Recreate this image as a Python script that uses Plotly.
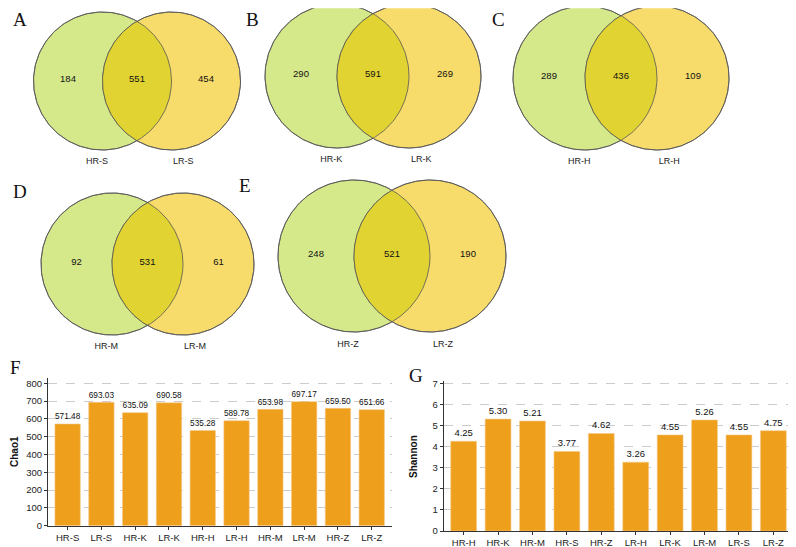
import numpy as np
import plotly.graph_objects as go

# venn counts: (only left, shared, only right)
venn_letters = ["A", "B", "C", "D", "E"]
venn_left = ["HR-S", "HR-K", "HR-H", "HR-M", "HR-Z"]
venn_right = ["LR-S", "LR-K", "LR-H", "LR-M", "LR-Z"]
left_only = [184, 290, 289, 92, 248]
shared = [551, 591, 436, 531, 521]
right_only = [454, 269, 109, 61, 190]

# alpha diversity
chao1_groups = ["HR-S", "LR-S", "HR-K", "LR-K", "HR-H", "LR-H", "HR-M", "LR-M", "HR-Z", "LR-Z"]
chao1_values = [571.48, 693.03, 635.09, 690.58, 535.28, 589.78, 653.98, 697.17, 659.50, 651.66]
shannon_groups = ["HR-H", "HR-K", "HR-M", "HR-S", "HR-Z", "LR-H", "LR-K", "LR-M", "LR-S", "LR-Z"]
shannon_values = [4.25, 5.30, 5.21, 3.77, 4.62, 3.26, 4.55, 5.26, 4.55, 4.75]

# page has an 8px body margin, so the figure is a bit smaller than the window
PAD = 8
W, H = 796 - PAD, 547 - PAD
GREEN = "#d5e98b"
YELLOW = "#f8dc6b"
OVERLAP = "#e1d332"
ORANGE = "#ee9f1b"
SANS = "Liberation Sans"
SERIF = "Liberation Serif"

def fx(px):
    return min(max((px - PAD) / W, 0), 1)

def fy(py):
    return min(max(1 - (py - PAD) / H, 0), 1)

# panel placement in window pixels: left circle centre x, y and radius
venn_pos = [(102.5, 81, 69), (337, 76, 72), (585, 78, 72), (112, 264, 71), (354, 256, 76)]
XR = [-1.2, 2.2]

t = np.linspace(0, 2 * np.pi, 240)
a1 = np.linspace(-np.pi / 3, np.pi / 3, 80)
a2 = np.linspace(2 * np.pi / 3, 4 * np.pi / 3, 80)
lens_x = np.concatenate([np.cos(a1), 1 + np.cos(a2)])
lens_y = np.concatenate([np.sin(a1), np.sin(a2)])

fig = go.Figure()
layout = dict()
annotations = []

for i in range(5):
    n = i + 1
    xa = "x" if n == 1 else "x%d" % n
    ya = "y" if n == 1 else "y%d" % n
    cx, cy, r = venn_pos[i]
    yr = [-1.3, min(1.05, (cy - PAD) / r - 0.002)]
    line = dict(color="#555555", width=0.8)
    common = dict(xaxis=xa, yaxis=ya, hoverinfo="skip", cliponaxis=False)
    fig.add_trace(go.Scatter(x=np.cos(t), y=np.sin(t), fill="toself", fillcolor=GREEN,
                             mode="lines", line=line, **common))
    fig.add_trace(go.Scatter(x=1 + np.cos(t), y=np.sin(t), fill="toself", fillcolor=YELLOW,
                             mode="lines", line=line, **common))
    fig.add_trace(go.Scatter(x=lens_x, y=lens_y, fill="toself", fillcolor=OVERLAP,
                             mode="lines", line=dict(width=0), **common))
    fig.add_trace(go.Scatter(x=np.cos(t), y=np.sin(t), mode="lines", line=line, **common))
    fig.add_trace(go.Scatter(x=1 + np.cos(t), y=np.sin(t), mode="lines", line=line, **common))
    fig.add_trace(go.Scatter(x=[-0.5, 0.5, 1.5], y=[0.02, 0.02, 0.02], mode="text",
                             text=[str(left_only[i]), str(shared[i]), str(right_only[i])],
                             textfont=dict(family=SANS, size=9.5, color="#111"), **common))
    fig.add_trace(go.Scatter(x=[-0.08, 1.17], y=[-1.17, -1.17], mode="text",
                             text=[venn_left[i], venn_right[i]],
                             textfont=dict(family=SANS, size=9, color="#222"), **common))
    key = "" if n == 1 else str(n)
    layout["xaxis" + key] = dict(domain=[fx(cx + XR[0] * r), fx(cx + XR[1] * r)], range=XR,
                                 visible=False, anchor=ya, automargin=False)
    layout["yaxis" + key] = dict(domain=[fy(cy - yr[0] * r), fy(cy - yr[1] * r)], range=yr,
                                 visible=False, anchor=xa, automargin=False)

letter_pos = [(20, 20), (252, 20), (498, 20), (20, 191), (245, 185), (15, 367), (416, 375)]
for letter, (px, py) in zip(venn_letters + ["F", "G"], letter_pos):
    annotations.append(dict(text=letter, x=fx(px), y=fy(py), xref="paper", yref="paper",
                            xanchor="center", yanchor="middle", showarrow=False,
                            font=dict(family=SERIF, size=19, color="#111")))

# bar charts
def bar_axes(n, x0, x1, y0, y1, yrange, dtick):
    axis_style = dict(showline=True, linecolor="#333", linewidth=1, ticks="outside",
                      ticklen=3, tickcolor="#333", automargin=False,
                      tickfont=dict(family=SANS, size=9.5, color="#222"))
    layout["xaxis%d" % n] = dict(domain=[fx(x0), fx(x1)], anchor="y%d" % n, range=[-0.58, 9.6],
                                 showgrid=False, **axis_style)
    layout["yaxis%d" % n] = dict(domain=[fy(y0), fy(y1)], anchor="x%d" % n, range=yrange,
                                 dtick=dtick, showgrid=True, gridcolor="#cccccc", griddash="dash",
                                 gridwidth=0.8, zeroline=False, **axis_style)

fig.add_trace(go.Bar(x=chao1_groups, y=chao1_values, marker=dict(color=ORANGE, line=dict(color="#f5c88a", width=0.6)),
                     width=0.75, text=["%.2f" % v for v in chao1_values], textposition="outside",
                     textfont=dict(family=SANS, size=9.5, color="#111"), cliponaxis=False,
                     xaxis="x6", yaxis="y6", hoverinfo="skip"))
fig.add_trace(go.Bar(x=shannon_groups, y=shannon_values, marker=dict(color=ORANGE, line=dict(color="#f5c88a", width=0.6)),
                     width=0.75, text=["%.2f" % v for v in shannon_values], textposition="outside",
                     textfont=dict(family=SANS, size=9.5, color="#111"), cliponaxis=False,
                     xaxis="x7", yaxis="y7", hoverinfo="skip"))
bar_axes(6, 48, 392, 525.7, 378, [0, 830], 100)
bar_axes(7, 443.7, 794, 531, 380.7, [0, 7.12], 1)

annotations.append(dict(text="<b>Chao1</b>", x=fx(14), y=fy(452), xref="paper", yref="paper",
                        xanchor="center", yanchor="middle", textangle=-90, showarrow=False,
                        font=dict(family=SANS, size=10, color="#111")))
annotations.append(dict(text="<b>Shannon</b>", x=fx(413), y=fy(457), xref="paper", yref="paper",
                        xanchor="center", yanchor="middle", textangle=-90, showarrow=False,
                        font=dict(family=SANS, size=10, color="#111")))

fig.update_layout(width=W, height=H, margin=dict(l=0, r=0, t=0, b=0, autoexpand=False),
                  showlegend=False, plot_bgcolor="white", paper_bgcolor="white",
                  annotations=annotations, **layout)
fig.write_html("out.html")
